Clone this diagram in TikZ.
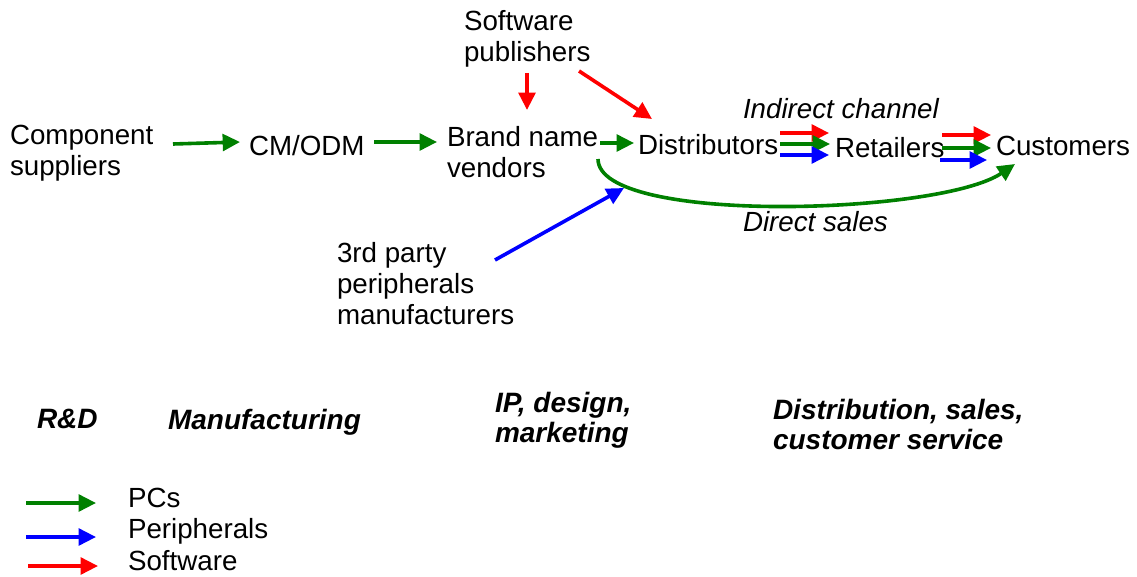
\documentclass[tikz,border=0pt]{standalone}
\usepackage{fontspec}
\setmainfont{Liberation Sans}
\usetikzlibrary{arrows.meta,calc}
\definecolor{pcgreen}{RGB}{0,128,0}
\definecolor{perblue}{RGB}{0,0,255}
\definecolor{swred}{RGB}{255,0,0}
\tikzset{
  lbl/.style={anchor=north west,inner sep=0pt,outer sep=0pt,align=left,
    font=\fontsize{20.8pt}{23.25pt}\selectfont},
  ilbl/.style={lbl,font=\fontsize{20.8pt}{23.25pt}\selectfont\itshape},
  blbl/.style={lbl,font=\fontsize{21pt}{22.5pt}\selectfont\bfseries\itshape},
  flow/.style={line width=2.7pt,-{Triangle[length=13pt,width=12.5pt]}},
  pc/.style={flow,draw=pcgreen},
  per/.style={flow,draw=perblue},
  sw/.style={flow,draw=swred}
}
\begin{document}
\begin{tikzpicture}[x=0.75pt,y=-0.75pt]
\useasboundingbox (0,0) rectangle (1137,577);
% nodes
\node[lbl] (comp) at (10,125) {Component\\suppliers};
\node[lbl] (cm) at (249,135) {CM/ODM};
\node[lbl] (brand) at (447,126) {Brand name\\vendors};
\node[lbl] (swp) at (464,10) {Software\\publishers};
\node[lbl] (dist) at (638,134) {Distributors};
\node[lbl] (ret) at (835,137) {Retailers};
\node[lbl] (cust) at (996,136) {Customers};
\node[ilbl] (ind) at (743,98) {Indirect channel};
\node[ilbl] (dir) at (743,211) {Direct sales};
\node[lbl] (third) at (337,242) {3rd party\\peripherals\\manufacturers};
\node[blbl] (rd) at (37,409) {R\&D};
\node[blbl] (manu) at (168,409) {Manufacturing};
\node[blbl] (ip) at (495,392) {IP, design,\\marketing};
\node[blbl] (dsc) at (773,399) {Distribution, sales,\\customer service};
% legend
\node[lbl] (lpc) at (128,488) {PCs};
\node[lbl] (lper) at (128,518) {Peripherals};
\node[lbl] (lsw) at (128,550) {Software};
\coordinate (lpcs) at (26,503);
\coordinate (lpers) at (26,537);
\coordinate (lsws) at (28,566);
\draw[pc] (lpcs) -- ($(lpcs)+(70,0)$);
\draw[per] (lpers) -- ($(lpers)+(70,0)$);
\draw[sw] (lsws) -- ($(lsws)+(70,0)$);
% main flow
\draw[pc] ($(comp.north west)+(163,19)$) -- ($(cm.north west)+(-9,7)$);
\draw[pc] ($(cm.north west)+(125,7)$) -- ($(brand.north west)+(-10,16)$);
\draw[pc] ($(brand.north west)+(153,17)$) -- ($(dist.north west)+(-4,9)$);
\draw[sw] ($(swp.north west)+(63,63)$) -- ($(brand.north west)+(80,-16)$);
\draw[sw] ($(swp.north west)+(115,61)$) -- ($(dist.north west)+(14,-15)$);
\draw[per] ($(third.north west)+(158,18)$) -- ($(brand.north west)+(177,62)$);
\draw[pc] ($(brand.north west)+(151,33)$) .. controls ($(brand.north west)+(151,99)$) and ($(cust.north west)+(-56,79)$) .. ($(cust.north west)+(19,28)$);
% indirect channel triples
\draw[sw]  ($(dist.north west)+(142,-1)$)  -- ($(ret.north west)+(-6,-4)$);
\draw[pc]  ($(dist.north west)+(142,10)$) -- ($(ret.north west)+(-5,7)$);
\draw[per] ($(dist.north west)+(142,21)$) -- ($(ret.north west)+(-6,18)$);
\draw[sw]  ($(ret.north west)+(107,-2)$)  -- ($(cust.north west)+(-5,-1)$);
\draw[pc]  ($(ret.north west)+(107,11)$)  -- ($(cust.north west)+(-5,12)$);
\draw[per] ($(ret.north west)+(105,23)$)  -- ($(cust.north west)+(-9,24)$);
\end{tikzpicture}
\end{document}
